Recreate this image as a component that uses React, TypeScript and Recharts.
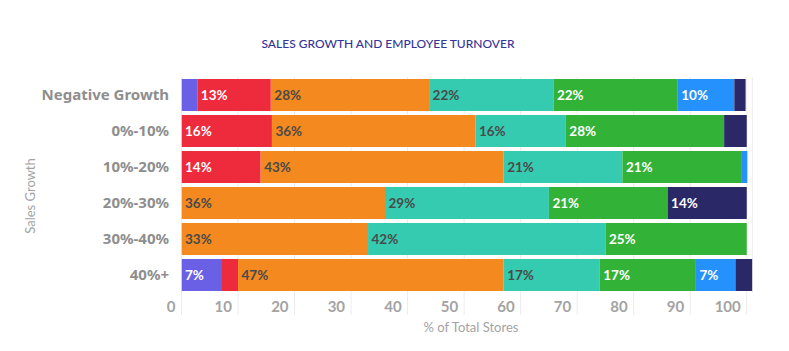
import React from 'react';
import { BarChart, Bar, XAxis, YAxis, CartesianGrid, LabelList } from 'recharts';

const categories = ['Negative Growth', '0%-10%', '10%-20%', '20%-30%', '30%-40%', '40%+'];

const seriesNames = ['Turnover A', 'Turnover B', 'Turnover C', 'Turnover D', 'Turnover E', 'Turnover F', 'Turnover G'];
const purpleValues = [2.8, 0, 0, 0, 0, 7];
const redValues = [13, 16, 14, 0, 0, 3];
const orangeValues = [28, 36, 43, 36, 33, 47];
const tealValues = [22, 16, 21, 29, 42, 17];
const greenValues = [22, 28, 21, 21, 25, 17];
const blueValues = [10, 0, 1.1, 0, 0, 7];
const navyValues = [2, 4, 0, 14, 0, 3];

const xTicks = [0, 10, 20, 30, 40, 50, 60, 70, 80, 90, 100];

const seriesValues = [purpleValues, redValues, orangeValues, tealValues, greenValues, blueValues, navyValues];
const seriesColors = ['#6a60e6', '#ee2a3d', '#f3891f', '#35cbb0', '#32b236', '#2491fc', '#2b2868'];
const labelColors = ['#ffffff', '#ffffff', '#4a4a4a', '#4a4a4a', '#ffffff', '#ffffff', '#ffffff'];
const keys = ['s0', 's1', 's2', 's3', 's4', 's5', 's6'];

const data = categories.map((c, i) => {
  const row: any = { category: c };
  keys.forEach((k, j) => {
    row[k] = seriesValues[j][i];
  });
  return row;
});

const FONT = 'Lato, "Noto Sans", sans-serif';
const WIDE = '"Noto Sans", Lato, sans-serif';

const makeLabel = (color: string) => (props: any) => {
  const vb = props.viewBox || {};
  const x = props.x ?? vb.x;
  const y = props.y ?? vb.y;
  const h = props.height ?? vb.height;
  const v = Number(props.value);
  if (!v || v < 5) return null;
  return (
    <text
      x={x + 3.5}
      y={y + h / 2}
      dominantBaseline="central"
      fill={color}
      fontSize={13.5}
      fontWeight={700}
      fontFamily={FONT}
    >
      {`${Math.round(v)}%`}
    </text>
  );
};

const XTick = (props: any) => {
  const { x, y, payload } = props;
  return (
    <text x={x - 6} y={y - 5} textAnchor="end" fill="#a3a3a3" fontSize={15} fontWeight={700} fontFamily={FONT}>
      {payload.value}
    </text>
  );
};

const YLabel = () => (
  <text
    x={35}
    y={196}
    transform="rotate(-90, 35, 196)"
    textAnchor="middle"
    fill="#a3a3a3"
    fontSize={13}
    fontFamily={FONT}
  >
    Sales Growth
  </text>
);

const XLabel = () => (
  <text x={471} y={332} textAnchor="middle" fill="#a3a3a3" fontSize={13} fontFamily={FONT}>
    % of Total Stores
  </text>
);

export default function App() {
  return (
    <div style={{ position: 'absolute', left: 0, top: 0, width: 789, height: 351, background: '#fff' }}>
      <div
        style={{
          position: 'absolute',
          left: 0,
          width: 776,
          top: 36,
          textAlign: 'center',
          fontFamily: FONT,
          fontSize: 12,
          fontWeight: 500,
          color: '#34349a',
          lineHeight: '16px',
        }}
      >
        SALES GROWTH AND EMPLOYEE TURNOVER
      </div>
      <BarChart
        width={789}
        height={351}
        data={data}
        layout="vertical"
        margin={{ top: 77, right: 36.6, bottom: 28, left: 0 }}
        barCategoryGap={2}
      >
        <CartesianGrid horizontal={false} vertical={true} stroke="#ececec" />
        <XAxis
          type="number"
          domain={[0, 101]}
          ticks={xTicks}
          allowDataOverflow
          axisLine={false}
          tickLine={{ stroke: '#ececec' }}
          tickSize={22}
          height={30}
          tick={<XTick />}
          label={<XLabel />}
        />
        <YAxis
          type="category"
          dataKey="category"
          width={181.5}
          axisLine={false}
          tickLine={false}
          tickMargin={6.5}
          tick={{ fill: '#8e8e8e', fontSize: 15, fontWeight: 700, fontFamily: WIDE }}
          label={<YLabel />}
        />
        {keys.map((k, j) => (
          <Bar
            key={k}
            dataKey={k}
            name={seriesNames[j]}
            stackId="a"
            fill={seriesColors[j]}
            isAnimationActive={false}
          >
            <LabelList dataKey={k} content={makeLabel(labelColors[j])} />
          </Bar>
        ))}
      </BarChart>
    </div>
  );
}
